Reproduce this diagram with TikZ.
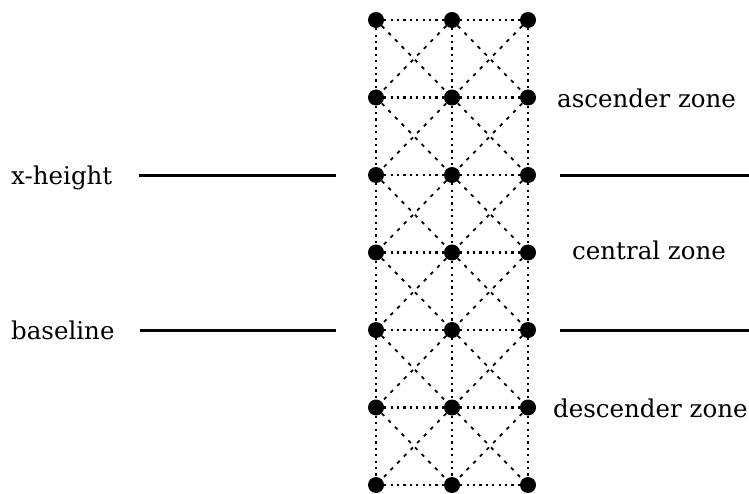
\documentclass[tikz,border=0pt]{standalone}
\usepackage{fontspec}
\setmainfont{DejaVu Serif}
\usepackage{tikz}

\tikzset{
  gridpt/.style={circle,fill=black,inner sep=0pt,minimum size=16pt},
  gridline/.style={line width=2.2pt,dash pattern=on 2.2pt off 4.2pt},
  crossline/.style={line width=1.8pt,dash pattern=on 3.5pt off 6pt},
  guide/.style={line width=3pt},
  zonelabel/.style={font=\fontsize{24.5}{28}\selectfont,inner sep=0pt}
}

\begin{document}
\begin{tikzpicture}[x=1pt,y=-1pt]
    \useasboundingbox (0,0) rectangle (749,494);
    % grid points
    \foreach \c/\x in {0/376,1/452,2/528}
      \foreach \r in {0,...,6}
        \node[gridpt] (p\c\r) at (\x,{20+77.5*\r}) {};
    % dotted grid with crosses
    \foreach \r [evaluate=\r as \s using int(\r+1)] in {0,...,5} {
      \draw[gridline] (p0\r) -- (p0\s);
      \draw[gridline] (p1\r) -- (p1\s);
      \draw[gridline] (p2\r) -- (p2\s);
      \draw[crossline] (p0\r) -- (p1\s);
      \draw[crossline] (p1\r) -- (p0\s);
      \draw[crossline] (p1\r) -- (p2\s);
      \draw[crossline] (p2\r) -- (p1\s);
    }
    \foreach \r in {0,...,6} {
      \draw[gridline] (p0\r) -- (p1\r);
      \draw[gridline] (p1\r) -- (p2\r);
    }
    % labels
    \node[zonelabel,anchor=west] (xh) at (11,178) {x-height};
    \node[zonelabel,anchor=west] (bl) at (11,330) {baseline};
    \node[zonelabel,anchor=west] (asc) at (557,98) {ascender zone};
    \node[zonelabel,anchor=west] (cen) at (572,250) {central zone};
    \node[zonelabel,anchor=west] (desc) at (553,408) {descender zone};
    % guide lines
    \coordinate (xhl) at (336,176);
    \coordinate (xhr) at (560,176);
    \coordinate (xhe) at (749,176);
    \coordinate (bll) at (336,330);
    \coordinate (blr) at (560,330);
    \coordinate (ble) at (749,330);
    \draw[guide] (xh.east) ++(27,-2) -- (xhl);
    \draw[guide] (xhr) -- (xhe);
    \draw[guide] (bl.east) ++(25,0) -- (bll);
    \draw[guide] (blr) -- (ble);
\end{tikzpicture}
\end{document}
